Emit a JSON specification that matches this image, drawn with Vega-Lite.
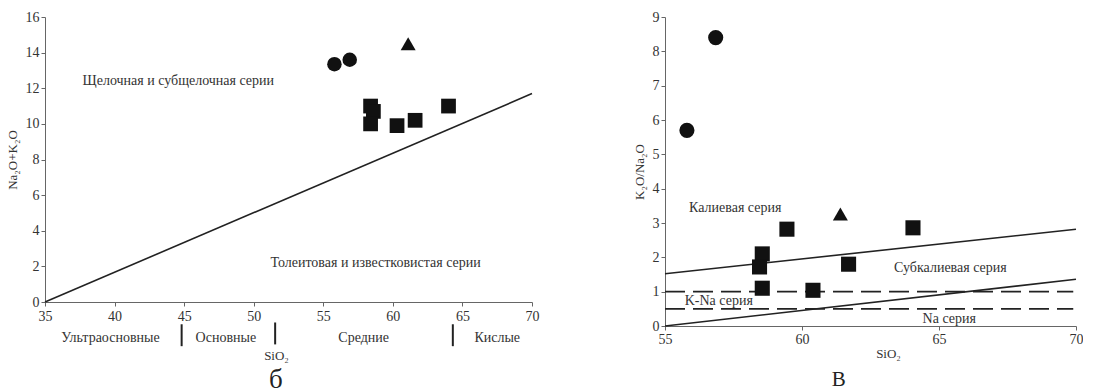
{
  "$schema": "https://vega.github.io/schema/vega-lite/v6.json",
  "padding": {"left": 6, "top": 10, "right": 0, "bottom": 0},
  "background": "white",
  "bounds": "flush",
  "spacing": 133,
  "config": {
    "view": {"stroke": null},
    "font": "Liberation Serif",
    "axis": {
      "labelFont": "Liberation Serif", "titleFont": "Liberation Serif",
      "labelFontSize": 14, "titleFontSize": 13, "titleFontWeight": "normal",
      "labelColor": "#333", "titleColor": "#333", "labelOverlap": false, "labelFlush": false,
      "domainColor": "#666", "tickColor": "#666", "tickSize": 4, "grid": false, "format": "d"
    }
  },
  "datasets": {
    "pts1": [
      {"si": 55.8, "v": 13.35, "type": "circle"},
      {"si": 56.9, "v": 13.6, "type": "circle"},
      {"si": 61.1, "v": 14.5, "type": "triangle"},
      {"si": 58.4, "v": 11.0, "type": "square"},
      {"si": 58.6, "v": 10.7, "type": "square"},
      {"si": 58.4, "v": 10.0, "type": "square"},
      {"si": 60.3, "v": 9.9, "type": "square"},
      {"si": 61.6, "v": 10.2, "type": "square"},
      {"si": 64.0, "v": 11.0, "type": "square"}
    ],
    "pts2": [
      {"si": 55.8, "v": 5.7, "type": "circle"},
      {"si": 56.85, "v": 8.4, "type": "circle"},
      {"si": 61.4, "v": 3.26, "type": "triangle"},
      {"si": 59.45, "v": 2.82, "type": "square"},
      {"si": 64.05, "v": 2.86, "type": "square"},
      {"si": 58.55, "v": 2.1, "type": "square"},
      {"si": 58.45, "v": 1.72, "type": "square"},
      {"si": 61.7, "v": 1.8, "type": "square"},
      {"si": 58.55, "v": 1.1, "type": "square"},
      {"si": 60.4, "v": 1.04, "type": "square"}
    ]
  },
  "hconcat": [
    {
      "width": 487,
      "height": 285,
      "layer": [
        {
          "data": {"values": [{"si": 35, "v": 0}, {"si": 70, "v": 11.7}]},
          "mark": {"type": "line", "color": "#222", "strokeWidth": 1.6},
          "encoding": {
            "x": {"field": "si", "type": "quantitative",
              "scale": {"domain": [35, 70], "nice": false, "zero": false},
              "axis": {"values": [35, 40, 45, 50, 55, 60, 65, 70], "tickCount": 20, "format": "d", "title": "SiO₂", "titleX": 231, "titleY": 47, "titleAnchor": null, "titleAlign": "center", "labelPadding": 3}},
            "y": {"field": "v", "type": "quantitative",
              "scale": {"domain": [0, 16], "nice": false},
              "axis": {"values": [0, 2, 4, 6, 8, 10, 12, 14, 16], "tickCount": 20, "format": "d", "title": "Na₂O+K₂O", "titlePadding": 6}}
          }
        },
        {
          "data": {"name": "pts1"},
          "mark": {"type": "point", "filled": true, "opacity": 1, "color": "#111"},
          "encoding": {
            "x": {"field": "si", "type": "quantitative"},
            "y": {"field": "v", "type": "quantitative"},
            "shape": {"field": "type", "type": "nominal",
              "scale": {"domain": ["circle", "square", "triangle"], "range": ["circle", "square", "triangle-up"]},
              "legend": null},
            "size": {"field": "type", "type": "nominal",
              "scale": {"domain": ["circle", "square", "triangle"], "range": [210, 225, 150]},
              "legend": null}
          }
        },
        {
          "data": {"values": [
            {"si": 37.7, "v": 12.4, "label": "Щелочная и субщелочная серии"},
            {"si": 51.2, "v": 2.2, "label": "Толеитовая и известковистая серии"}
          ]},
          "mark": {"type": "text", "align": "left", "baseline": "middle", "font": "Liberation Serif", "fontSize": 14, "color": "#333"},
          "encoding": {
            "x": {"field": "si", "type": "quantitative"},
            "y": {"field": "v", "type": "quantitative"},
            "text": {"field": "label"}
          }
        },
        {
          "data": {"values": [
            {"si": 39.7, "v": -2.0, "label": "Ультраосновные"},
            {"si": 48.0, "v": -2.0, "label": "Основные"},
            {"si": 57.9, "v": -2.0, "label": "Средние"},
            {"si": 67.5, "v": -2.0, "label": "Кислые"}
          ]},
          "mark": {"type": "text", "align": "center", "baseline": "middle", "font": "Liberation Serif", "fontSize": 14, "color": "#333"},
          "encoding": {
            "x": {"field": "si", "type": "quantitative"},
            "y": {"field": "v", "type": "quantitative"},
            "text": {"field": "label"}
          }
        },
        {
          "data": {"values": [
            {"si": 44.82, "v1": -1.25, "v2": -2.48},
            {"si": 51.54, "v1": -1.15, "v2": -2.38},
            {"si": 64.31, "v1": -1.25, "v2": -2.48}
          ]},
          "mark": {"type": "rule", "color": "#222", "strokeWidth": 2},
          "encoding": {
            "x": {"field": "si", "type": "quantitative"},
            "y": {"field": "v1", "type": "quantitative"},
            "y2": {"field": "v2"}
          }
        },
        {
          "data": {"values": [{"si": 51.6, "v": -4.8, "label": "б"}]},
          "mark": {"type": "text", "align": "center", "baseline": "alphabetic", "font": "Liberation Serif", "fontSize": 27, "color": "#222"},
          "encoding": {
            "x": {"field": "si", "type": "quantitative"},
            "y": {"field": "v", "type": "quantitative"},
            "text": {"field": "label"}
          }
        }
      ]
    },
    {
      "width": 411,
      "height": 309,
      "layer": [
        {
          "data": {"values": [
            {"si": 55, "v": 1.52, "line": "a"}, {"si": 70, "v": 2.82, "line": "a"},
            {"si": 55, "v": 0, "line": "b"}, {"si": 70, "v": 1.36, "line": "b"}
          ]},
          "mark": {"type": "line", "color": "#222", "strokeWidth": 1.6},
          "encoding": {
            "x": {"field": "si", "type": "quantitative",
              "scale": {"domain": [55, 70], "nice": false, "zero": false},
              "axis": {"values": [55, 60, 65, 70], "tickCount": 20, "format": "d", "title": "SiO₂", "titleX": 223, "titleY": 21, "titleAlign": "center"}},
            "y": {"field": "v", "type": "quantitative",
              "scale": {"domain": [0, 9], "nice": false},
              "axis": {"values": [0, 1, 2, 3, 4, 5, 6, 7, 8, 9], "tickCount": 20, "format": "d", "title": "K₂O/Na₂O", "titlePadding": 6}},
            "detail": {"field": "line"}
          }
        },
        {
          "data": {"values": [
            {"si": 55, "v": 1, "line": "c"}, {"si": 69.9, "v": 1, "line": "c"},
            {"si": 55, "v": 0.5, "line": "d"}, {"si": 69.9, "v": 0.5, "line": "d"}
          ]},
          "mark": {"type": "line", "color": "#222", "strokeWidth": 1.6, "strokeDash": [20, 8]},
          "encoding": {
            "x": {"field": "si", "type": "quantitative"},
            "y": {"field": "v", "type": "quantitative"},
            "detail": {"field": "line"}
          }
        },
        {
          "data": {"name": "pts2"},
          "mark": {"type": "point", "filled": true, "opacity": 1, "color": "#111"},
          "encoding": {
            "x": {"field": "si", "type": "quantitative"},
            "y": {"field": "v", "type": "quantitative"},
            "shape": {"field": "type", "type": "nominal",
              "scale": {"domain": ["circle", "square", "triangle"], "range": ["circle", "square", "triangle-up"]},
              "legend": null},
            "size": {"field": "type", "type": "nominal",
              "scale": {"domain": ["circle", "square", "triangle"], "range": [230, 225, 150]},
              "legend": null}
          }
        },
        {
          "data": {"values": [
            {"si": 55.88, "v": 3.44, "label": "Калиевая серия"},
            {"si": 63.36, "v": 1.7, "label": "Субкалиевая серия"},
            {"si": 55.72, "v": 0.72, "label": "K-Na серия"},
            {"si": 64.4, "v": 0.21, "label": "Na серия"}
          ]},
          "mark": {"type": "text", "align": "left", "baseline": "middle", "font": "Liberation Serif", "fontSize": 14, "color": "#333"},
          "encoding": {
            "x": {"field": "si", "type": "quantitative"},
            "y": {"field": "v", "type": "quantitative"},
            "text": {"field": "label"}
          }
        },
        {
          "data": {"values": [{"si": 61.34, "v": -1.86, "label": "В"}]},
          "mark": {"type": "text", "align": "center", "baseline": "bottom", "font": "Liberation Serif", "fontSize": 21, "color": "#222"},
          "encoding": {
            "x": {"field": "si", "type": "quantitative"},
            "y": {"field": "v", "type": "quantitative"},
            "text": {"field": "label"}
          }
        }
      ],
      "resolve": {"scale": {"shape": "independent", "size": "independent"}}
    }
  ],
  "resolve": {"scale": {"x": "independent", "y": "independent", "shape": "independent", "size": "independent"}}
}
